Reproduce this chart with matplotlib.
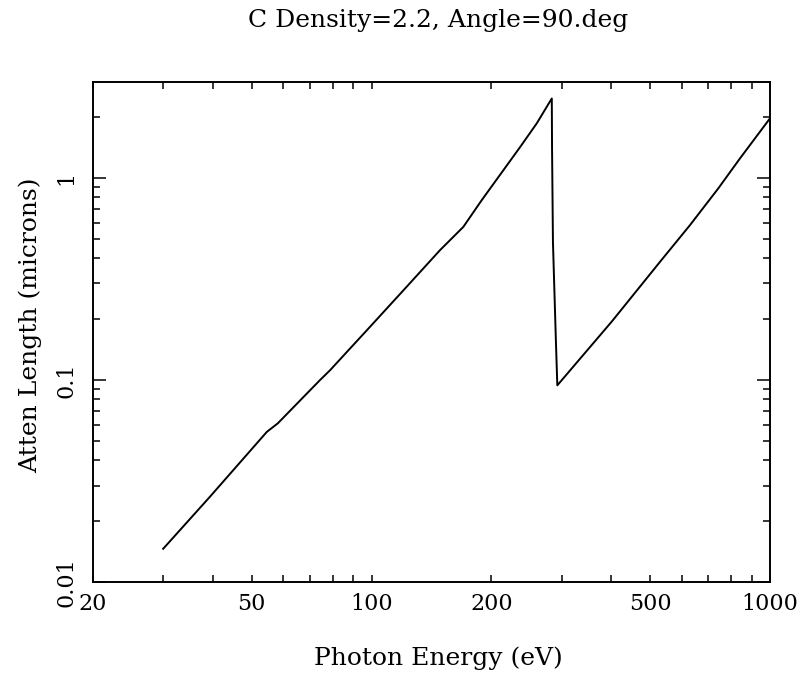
import numpy as np
import matplotlib
matplotlib.use('Agg')
import matplotlib.pyplot as plt
from matplotlib.ticker import FixedLocator, FixedFormatter, NullFormatter

# photon energy (eV) and attenuation length (microns)
energy = [30.0, 39.3, 54.6, 58.2, 74.2, 78.7, 99.1, 122.5, 148.6, 170.0, 189.0,
          236.0, 259.8, 283.4, 283.8, 285.3, 290.0, 292.6,
          400.4, 529.6, 629.6, 741.5, 840.6, 1000.0]
atten = [0.0146, 0.0264, 0.0553, 0.0610, 0.0997, 0.1117, 0.183, 0.289, 0.439, 0.572, 0.775,
         1.42, 1.86, 2.47, 1.42, 0.481, 0.163, 0.094,
         0.194, 0.384, 0.583, 0.886, 1.247, 1.97]

x_labels = [20, 50, 100, 200, 500, 1000]
x_minor = [30, 40, 60, 70, 80, 90, 300, 400, 600, 700, 800, 900]
y_major = [0.01, 0.1, 1]
y_minor = [0.02, 0.03, 0.04, 0.05, 0.06, 0.07, 0.08, 0.09,
           0.2, 0.3, 0.4, 0.5, 0.6, 0.7, 0.8, 0.9, 2]

plt.rcParams['font.family'] = 'DejaVu Serif'

fig = plt.figure(figsize=(8.06, 6.78), dpi=100)
ax = fig.add_axes([93 / 806, 96 / 678, 677 / 806, 500 / 678])
ax.plot(energy, atten, color='black', lw=1.4)
ax.set_xscale('log')
ax.set_yscale('log')
ax.set_xlim(20, 1000)
ax.set_ylim(0.01, 2.98)

ax.xaxis.set_major_locator(FixedLocator(x_labels))
ax.xaxis.set_major_formatter(FixedFormatter([str(v) for v in x_labels]))
ax.xaxis.set_minor_locator(FixedLocator(x_minor))
ax.xaxis.set_minor_formatter(NullFormatter())
ax.yaxis.set_major_locator(FixedLocator(y_major))
ax.yaxis.set_major_formatter(FixedFormatter(['0.01', '0.1', '1']))
ax.yaxis.set_minor_locator(FixedLocator(y_minor))
ax.yaxis.set_minor_formatter(NullFormatter())

ax.tick_params(which='both', direction='in', top=True, right=True, width=1.1, labelsize=16)
ax.tick_params(axis='x', which='major', length=5, pad=8)
ax.tick_params(axis='x', which='minor', length=5)
ax.tick_params(axis='y', which='major', length=9.4, pad=11)
ax.tick_params(axis='y', which='minor', length=5)

# the 100 eV tick is drawn long
for t in ax.xaxis.get_major_ticks():
    if t.get_loc() == 100:
        t.tick1line.set_markersize(9.4)
        t.tick2line.set_markersize(9.4)

for lbl in ax.get_yticklabels():
    lbl.set_rotation(90)
    lbl.set_va('center')
    lbl.set_ha('right')

for s in ax.spines.values():
    s.set_linewidth(1.4)

fig.text(438 / 806, 1 - 21 / 678, 'C Density=2.2, Angle=90.deg', ha='center', va='center', fontsize=18)
fig.text(438 / 806, 1 - 658 / 678, 'Photon Energy (eV)', ha='center', va='center', fontsize=18)
fig.text(30 / 806, 1 - 325 / 678, 'Atten Length (microns)', ha='center', va='center',
         rotation=90, fontsize=18)

fig.savefig('out.png', dpi=100)
